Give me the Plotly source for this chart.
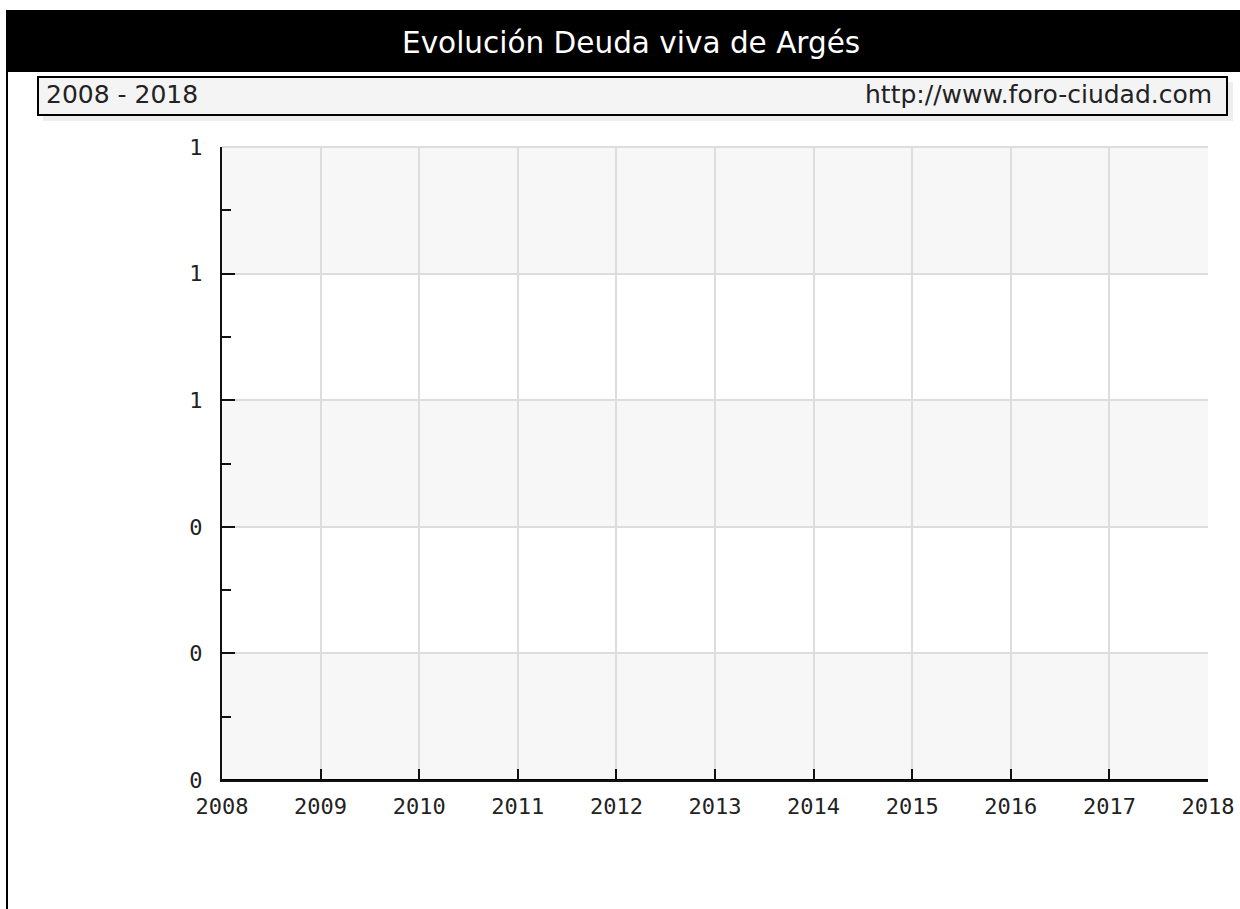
import plotly.graph_objects as go

# ---- data ----
years = [2008, 2009, 2010, 2011, 2012, 2013, 2014, 2015, 2016, 2017, 2018]
deuda_viva = [0, 0, 0, 0, 0, 0, 0, 0, 0, 0, 0]
title_text = "Evolución Deuda viva de Argés"
period_text = "2008 - 2018"
source_text = "http://www.foro-ciudad.com"
y_ticks = [0, 0.2, 0.4, 0.6, 0.8, 1.0]
band_ranges = [(0.8, 1.0), (0.4, 0.6), (0.0, 0.2)]

W, H = 1240, 909
L, R, T, B = 222, 1208, 147, 780


def px(x):
    return (x - L) / (R - L)


def py(y):
    return (B - y) / (B - T)


fig = go.Figure()
fig.add_trace(go.Scatter(x=years, y=deuda_viva, mode="lines",
                         line=dict(color="#000000", width=2),
                         hoverinfo="x+y", showlegend=False, cliponaxis=False))

shapes = []
# alternating bands
for lo, hi in band_ranges:
    shapes.append(dict(type="rect", xref="paper", yref="y", x0=0, x1=1, y0=lo, y1=hi,
                       fillcolor="#f7f7f7", line=dict(width=0), layer="below"))
# title bar
shapes.append(dict(type="rect", xref="paper", yref="paper", x0=px(6), x1=px(1240),
                   y0=py(72), y1=py(10), fillcolor="#000000", line=dict(width=0)))
# left frame line
shapes.append(dict(type="line", xref="paper", yref="paper", x0=px(7), x1=px(7),
                   y0=py(72), y1=py(909), line=dict(color="#000000", width=2)))
# subtitle box shadow
shapes.append(dict(type="rect", xref="paper", yref="paper", x0=px(43), x1=px(1233),
                   y0=py(121), y1=py(82), fillcolor="#eeeeee", line=dict(width=0)))
# subtitle box
shapes.append(dict(type="rect", xref="paper", yref="paper", x0=px(38), x1=px(1227),
                   y0=py(115), y1=py(77), fillcolor="#f4f4f4",
                   line=dict(color="#000000", width=2)))

annotations = [
    dict(text=title_text, xref="paper", yref="paper", x=px(631), y=py(43),
         xanchor="center", yanchor="middle", showarrow=False,
         font=dict(family="DejaVu Sans", size=29.5, color="#ffffff")),
    dict(text=period_text, xref="paper", yref="paper", x=px(44), y=py(95),
         xanchor="left", yanchor="middle", showarrow=False,
         font=dict(family="DejaVu Sans", size=25, color="#222222")),
    dict(text=source_text, xref="paper", yref="paper", x=px(1214), y=py(95),
         xanchor="right", yanchor="middle", showarrow=False,
         font=dict(family="DejaVu Sans", size=25, color="#222222")),
]

tickfont = dict(family="DejaVu Sans Mono", size=22, color="#222222")

fig.update_layout(
    width=W, height=H, autosize=False,
    margin=dict(l=L, r=W - R, t=T, b=H - B, pad=0),
    paper_bgcolor="#ffffff", plot_bgcolor="#ffffff",
    shapes=shapes, annotations=annotations,
    xaxis=dict(range=[2008, 2018], tickmode="array", tickvals=years,
               ticktext=[str(y) for y in years], automargin=False,
               showgrid=True, gridcolor="#dddddd", gridwidth=2,
               showline=True, linecolor="#111111", linewidth=2,
               ticks="inside", ticklen=11, tickwidth=2, tickcolor="#111111",
               tickfont=tickfont, ticklabelstandoff=6, zeroline=False,
               fixedrange=True),
    yaxis=dict(range=[0, 1], tickmode="array", tickvals=y_ticks,
               tickformat=".0f", automargin=False,
               showgrid=True, gridcolor="#dddddd", gridwidth=2,
               showline=True, linecolor="#111111", linewidth=2,
               ticks="inside", ticklen=13, tickwidth=2, tickcolor="#111111",
               minor=dict(dtick=0.1, ticks="inside", ticklen=9, tickwidth=2,
                          tickcolor="#111111", showgrid=False),
               tickfont=tickfont, ticklabelstandoff=13, zeroline=False,
               fixedrange=True),
)
# top border gridline
fig.add_shape(type="line", xref="paper", yref="paper", x0=0, x1=1, y0=1, y1=1,
              line=dict(color="#dddddd", width=2), layer="below")

fig.write_html("out.html", config={"displayModeBar": False},
               post_script="document.body.style.margin='0';"
                           "document.documentElement.style.overflow='hidden';"
                           "document.body.style.overflow='hidden';")
